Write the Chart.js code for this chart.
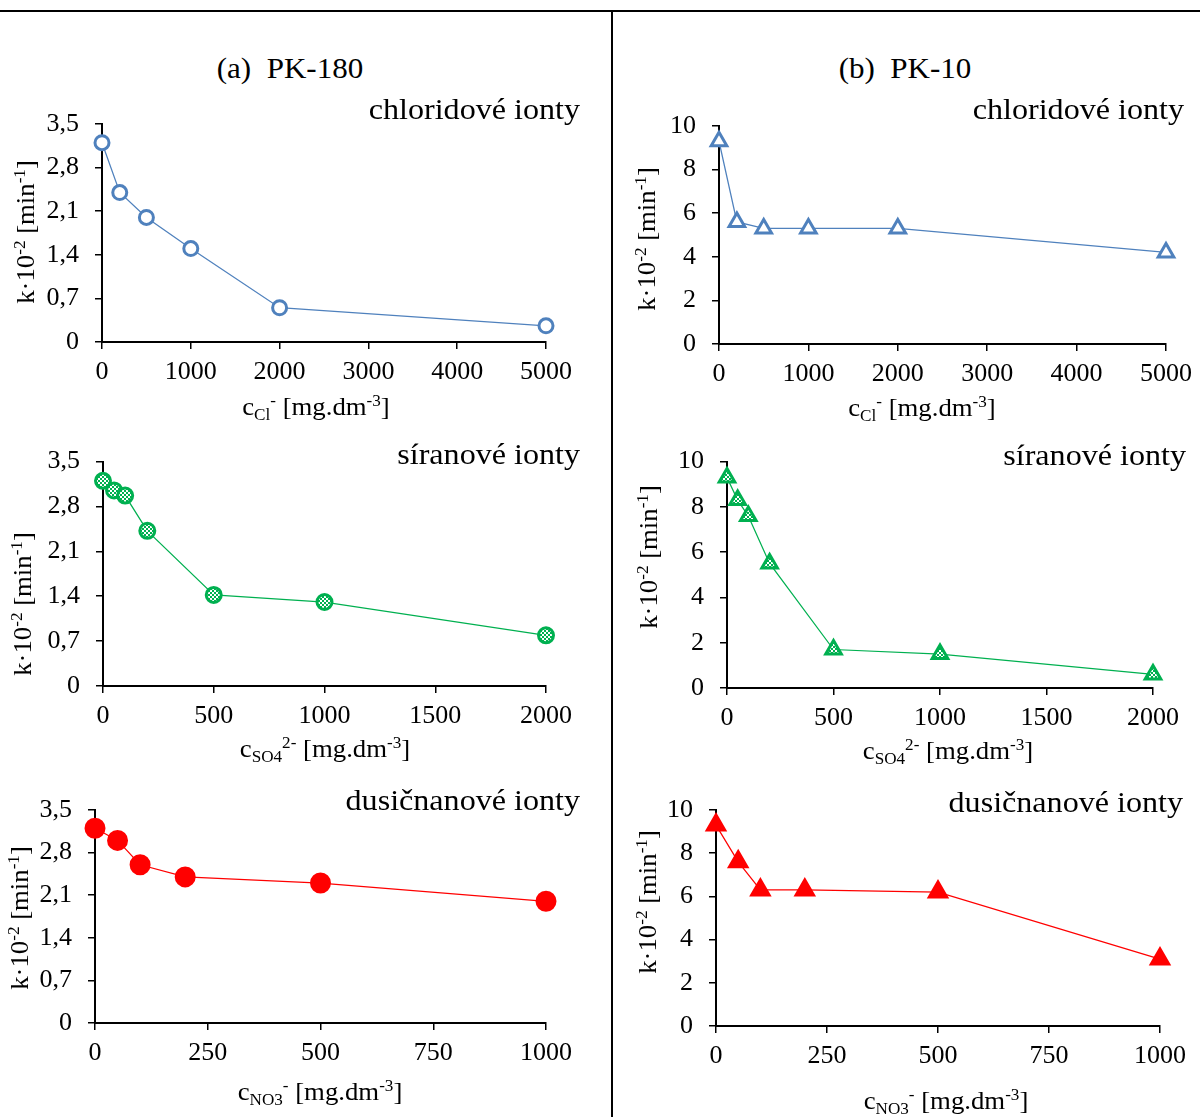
<!DOCTYPE html>
<html>
<head>
<meta charset="utf-8">
<script src="https://cdn.jsdelivr.net/npm/chart.js@4.4.1/dist/chart.umd.min.js"></script>
<style>
  body { margin: 0; background: #fff; }
  #page { position: relative; width: 1200px; height: 1117px; overflow: hidden; background: #fff; }
  .rule-h { position: absolute; left: 0; top: 10px; width: 1200px; height: 2px; background: #000; }
  .rule-v { position: absolute; left: 611px; top: 10px; width: 2px; height: 1107px; background: #000; }
  .panel-title { position: absolute; top: 54px; font: 29px 'Liberation Serif', 'Times New Roman', serif;
                 line-height: 29px; white-space: pre; transform: translateX(-50%) scaleX(1.07); color: #000; }
  canvas { position: absolute; }
</style>
</head>
<body>
<div id="page">
  <div class="rule-h"></div>
  <div class="rule-v"></div>
  <div class="panel-title" style="left:290px">(a)  PK-180</div>
  <div class="panel-title" style="left:905px">(b)  PK-10</div>
  <canvas id="a1"></canvas>
  <canvas id="b1"></canvas>
  <canvas id="a2"></canvas>
  <canvas id="b2"></canvas>
  <canvas id="a3"></canvas>
  <canvas id="b3"></canvas>
</div>
<script>
const FONT = "'Liberation Serif', 'Times New Roman', serif";
const STRETCH = 1.07;
const BLUE = '#4F81BD';
const GREEN = '#00B050';
const RED = '#FF0000';

// concentrations [mg/dm3]
const clConc = [0, 200, 500, 1000, 2000, 5000];
const so4Conc = [0, 50, 100, 200, 500, 1000, 2000];
const no3Conc = [0, 50, 100, 200, 500, 1000];

// rate constants k·10^-2 [1/min]
const clPK180 = [3.2, 2.4, 2.0, 1.5, 0.55, 0.26];
const clPK10 = [9.3, 5.6, 5.3, 5.3, 5.3, 4.2];
const so4PK180 = [3.2, 3.05, 2.97, 2.42, 1.42, 1.31, 0.79];
const so4PK10 = [9.3, 8.3, 7.6, 5.5, 1.7, 1.5, 0.6];
const no3PK180 = [3.2, 3.0, 2.6, 2.4, 2.3, 2.0];
const no3PK10 = [9.3, 7.6, 6.3, 6.3, 6.2, 3.1];

// tick values
const kTicksA = [0, 0.7, 1.4, 2.1, 2.8, 3.5];
const kTicksB = [0, 2, 4, 6, 8, 10];
const clTicks = [0, 1000, 2000, 3000, 4000, 5000];
const so4Ticks = [0, 500, 1000, 1500, 2000];
const no3Ticks = [0, 250, 500, 750, 1000];

// axis titles as [text, 'sup' | 'sub' | '']
const yTitle = [['k·10', ''], ['-2', 'sup'], [' [min', ''], ['-1', 'sup'], [']', '']];
const clTitle = [['c', ''], ['Cl', 'sub'], ['-', 'sup'], [' [mg.dm', ''], ['-3', 'sup'], [']', '']];
const so4Title = [['c', ''], ['SO4', 'sub'], ['2-', 'sup'], [' [mg.dm', ''], ['-3', 'sup'], [']', '']];
const no3Title = [['c', ''], ['NO3', 'sub'], ['-', 'sup'], [' [mg.dm', ''], ['-3', 'sup'], [']', '']];

const panels = [
  { id: 'a1', box: [0, 90, 600, 340], area: [102, 124, 546, 342], x: clConc, y: clPK180,
    xTicks: clTicks, yTicks: kTicksA, color: BLUE, style: 'circle', radius: 7, fill: '#fff',
    sub: 'chloridové ionty', subPos: [580, 119], xTitle: clTitle, xPos: [316, 408], yPos: [27, 232] },
  { id: 'b1', box: [613, 90, 587, 340], area: [719, 126, 1171, 344], x: clConc, y: clPK10,
    xTicks: clTicks, yTicks: kTicksB, color: BLUE, style: 'triangle', radius: 9, fill: '#fff',
    sub: 'chloridové ionty', subPos: [1184, 119], xTitle: clTitle, xPos: [922, 409], yPos: [648, 239] },
  { id: 'a2', box: [0, 430, 600, 340], area: [103, 458, 546, 686], x: so4Conc, y: so4PK180,
    xTicks: so4Ticks, yTicks: kTicksA, color: GREEN, style: 'circle', radius: 7.5, fill: 'checker',
    sub: 'síranové ionty', subPos: [580, 464], xTitle: so4Title, xPos: [325, 750], yPos: [24, 604] },
  { id: 'b2', box: [613, 430, 587, 340], area: [727, 458, 1153, 688], x: so4Conc, y: so4PK10,
    xTicks: so4Ticks, yTicks: kTicksB, color: GREEN, style: 'triangle', radius: 9, fill: 'checker',
    sub: 'síranové ionty', subPos: [1186, 465], xTitle: so4Title, xPos: [948, 752], yPos: [650, 557] },
  { id: 'a3', box: [0, 775, 600, 342], area: [95, 810, 546, 1023], x: no3Conc, y: no3PK180,
    xTicks: no3Ticks, yTicks: kTicksA, color: RED, style: 'circle', radius: 9, fill: RED,
    sub: 'dusičnanové ionty', subPos: [580, 810], xTitle: no3Title, xPos: [320, 1093], yPos: [21, 918] },
  { id: 'b3', box: [613, 775, 587, 342], area: [716, 810, 1160, 1026], x: no3Conc, y: no3PK10,
    xTicks: no3Ticks, yTicks: kTicksB, color: RED, style: 'triangle', radius: 10, fill: RED,
    sub: 'dusičnanové ionty', subPos: [1183, 812], xTitle: no3Title, xPos: [946, 1102], yPos: [649, 902] }
];

function checkerPattern(ctx, color) {
  const c = document.createElement('canvas');
  c.width = 4; c.height = 4;
  const g = c.getContext('2d');
  g.fillStyle = '#fff';
  g.fillRect(0, 0, 4, 4);
  g.fillStyle = color;
  g.fillRect(0, 0, 2, 2);
  g.fillRect(2, 2, 2, 2);
  return ctx.createPattern(c, 'repeat');
}

// text with sub/superscripts, centred on (cx, cy)
function drawRich(ctx, parts, cx, cy, size, angle) {
  const small = Math.round(size * 0.65);
  let total = 0;
  parts.forEach(([t, k]) => {
    ctx.font = (k ? small : size) + 'px ' + FONT;
    total += ctx.measureText(t).width;
  });
  ctx.save();
  ctx.translate(cx, cy);
  ctx.rotate(angle);
  ctx.scale(STRETCH, 1);
  ctx.textAlign = 'left';
  ctx.textBaseline = 'alphabetic';
  let x = -total / 2;
  const base = size * 0.28;
  parts.forEach(([t, k]) => {
    ctx.font = (k ? small : size) + 'px ' + FONT;
    let y = base;
    if (k === 'sup') y -= size * 0.36;
    if (k === 'sub') y += size * 0.2;
    ctx.fillText(t, x, y);
    x += ctx.measureText(t).width;
  });
  ctx.restore();
}

function labelPlugin(p) {
  return {
    id: 'panelLabels',
    afterDraw(chart) {
      const ctx = chart.ctx;
      const ox = p.box[0], oy = p.box[1];
      ctx.save();
      ctx.fillStyle = '#000';
      ctx.translate(p.subPos[0] - ox, p.subPos[1] - oy);
      ctx.scale(STRETCH, 1);
      ctx.font = '30px ' + FONT;
      ctx.textAlign = 'right';
      ctx.textBaseline = 'alphabetic';
      ctx.fillText(p.sub, 0, 0);
      ctx.restore();
      ctx.save();
      ctx.fillStyle = '#000';
      drawRich(ctx, p.xTitle, p.xPos[0] - ox, p.xPos[1] - oy, 25, 0);
      drawRich(ctx, yTitle, p.yPos[0] - ox, p.yPos[1] - oy, 25, -Math.PI / 2);
      ctx.restore();
    }
  };
}

function fmtK(v) {
  if (v === 0) return '0';
  return Number.isInteger(v) ? String(v) : v.toFixed(1).replace('.', ',');
}

function makeChart(p) {
  const el = document.getElementById(p.id);
  const [bx, by, bw, bh] = p.box;
  const [L, T, R, B] = p.area;
  el.style.left = bx + 'px';
  el.style.top = by + 'px';
  el.width = bw;
  el.height = bh;
  const ctx = el.getContext('2d');
  const fill = p.fill === 'checker' ? checkerPattern(ctx, p.color) : p.fill;

  const axisCommon = {
    type: 'linear',
    border: { display: true, color: '#000', width: 2 },
    grid: { drawOnChartArea: false, drawTicks: true, tickLength: 7, color: '#000', lineWidth: 1.5 },
  };

  new Chart(ctx, {
    type: 'line',
    data: {
      datasets: [{
        data: p.x.map((v, i) => ({ x: v, y: p.y[i] })),
        borderColor: p.color,
        borderWidth: 1.25,
        pointStyle: p.style,
        pointRadius: p.radius,
        pointBorderWidth: 3,
        pointBorderColor: p.color,
        pointBackgroundColor: fill,
        tension: 0,
        fill: false,
        clip: false
      }]
    },
    options: {
      responsive: false,
      animation: false,
      events: [],
      layout: { padding: { top: T - by, right: bx + bw - R, left: 0, bottom: 0 } },
      plugins: { legend: { display: false }, tooltip: { enabled: false } },
      scales: {
        x: Object.assign({}, axisCommon, {
          min: p.xTicks[0],
          max: p.xTicks[p.xTicks.length - 1],
          afterBuildTicks: s => { s.ticks = p.xTicks.map(v => ({ value: v })); },
          afterFit: s => { s.height = by + bh - B; },
          ticks: { color: '#000', font: { family: FONT, size: 26 }, padding: 8,
                   autoSkip: false, maxRotation: 0, callback: v => String(v) }
        }),
        y: Object.assign({}, axisCommon, {
          min: p.yTicks[0],
          max: p.yTicks[p.yTicks.length - 1],
          afterBuildTicks: s => { s.ticks = p.yTicks.map(v => ({ value: v })); },
          afterFit: s => { s.width = L - bx; },
          ticks: { color: '#000', font: { family: FONT, size: 26 }, padding: 16,
                   autoSkip: false, callback: v => fmtK(v) }
        })
      }
    },
    plugins: [labelPlugin(p)]
  });
}

panels.forEach(makeChart);
</script>
</body>
</html>
